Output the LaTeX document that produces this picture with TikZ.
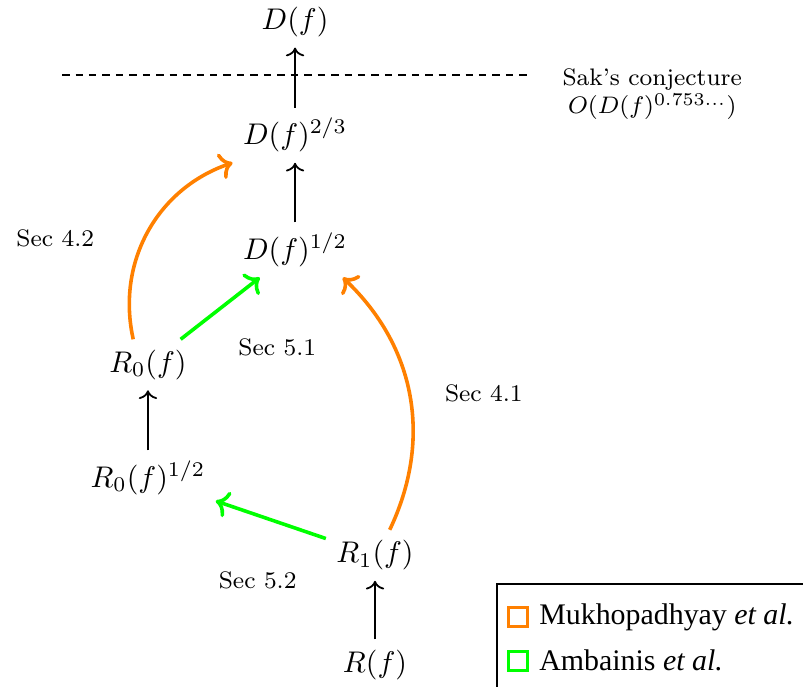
\documentclass[tikz,border=0pt]{standalone}
\usepackage{fontspec}
\newfontfamily\legendfont{Liberation Serif}
\usepackage{tikz}
\usetikzlibrary{arrows.meta,positioning}

\begin{document}
\begin{tikzpicture}[
    bound/.style={->, semithick},
    mukh/.style={->, very thick, orange},
    amba/.style={->, very thick, green},
    seclabel/.style={font=\footnotesize},
    cutline/.style={semithick, dash pattern=on 2.5pt off 2pt},
    legbox/.style={draw, line width=1pt, minimum size=6.3pt, inner sep=0pt},
    legtext/.style={font=\legendfont, inner sep=3.33pt}
]
\useasboundingbox (0,0) rectangle (9.443,-8.079);

\node (Df) at (3.47,-0.26) {$D(f)$};
\node (D23) at (3.47,-1.59) {$D(f)^{2/3}$};
\node (D12) at (3.47,-2.94) {$D(f)^{1/2}$};
\node (R0) at (1.74,-4.29) {$R_0(f)$};
\node (R0h) at (1.74,-5.62) {$R_0(f)^{1/2}$};
\node (R1) at (4.41,-6.53) {$R_1(f)$};
\node (R) at (4.41,-7.82) {$R(f)$};

% conjecture cut
\coordinate (cutL) at (0.73,-0.88);
\coordinate (cutR) at (6.20,-0.88);
\draw[cutline] (cutL) -- (cutR);
\node[seclabel, align=center] (sak) at (7.67,-1.105) {Sak's conjecture\\$O(D(f)^{0.753\ldots})$};

\node[seclabel] (s42) at (0.65,-2.80) {Sec~4.2};
\node[seclabel] (s51) at (3.26,-4.09) {Sec~5.1};
\node[seclabel] (s41) at (5.69,-4.62) {Sec~4.1};
\node[seclabel] (s52) at (3.03,-6.82) {Sec~5.2};

\draw[bound] (D23) -- (Df);
\draw[bound] (D12) -- (D23);
\draw[bound] (R0h) -- (R0);
\draw[bound] (R) -- (R1);

\draw[amba] (R1) -- (R0h);
\draw[amba] (R0) -- (D12);
\draw[mukh] (R1.60) to[bend right=36] (D12.-30);
\draw[mukh] (R0.120) to[bend left=42] (D23.south west);

% legend
\coordinate (legNW) at (5.84,-6.87);
\draw[semithick] (legNW) rectangle ++(5,-3);
\node[legbox, draw=orange] (legM) at (6.09,-7.26) {};
\node[legtext, right=0pt of legM] (legMtext) {Mukhopadhyay \textit{et al.}};
\node[legbox, draw=green] (legA) at (6.09,-7.77) {};
\node[legtext, right=0pt of legA] (legAtext) {Ambainis \textit{et al.}};

\end{tikzpicture}
\end{document}
